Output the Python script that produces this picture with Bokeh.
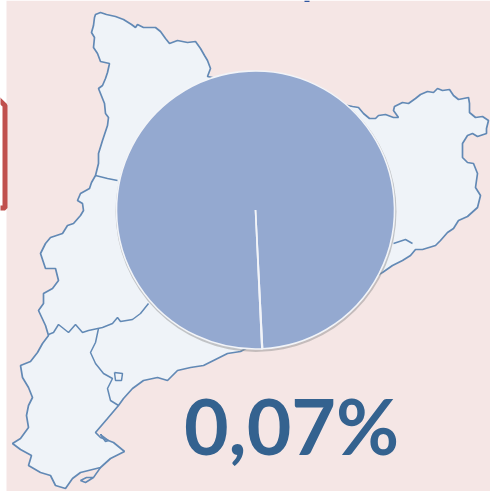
from bokeh.plotting import figure
from bokeh.models import Range1d
from bokeh.core.properties import value
from bokeh.embed import file_html
from bokeh.resources import INLINE
import numpy as np

slice_labels = ["Resta", "Selecció"]
slice_values = [99.93, 0.07]
big_label = "0,07%"
BG, LAND, EDGE, PIE, INK = "#F5E6E5", "#EFF3F8", "#6289B5", "#94A9D0", "#34628F"

north = [(95,14),(100,12),(106,14),(115,16),(123,19),(131,24),(135,27),(137,24),(143,27),(155,27),(160,31),(165,38),(169,43),(177,40),(187,42),(195,41),(200,48),(204,55),(207,60),(210,68),(207,76)]
east = [(352,106),(358,107),(363,113),(369,118),(375,118),(378,115),(385,114),(393,117),(398,117),(393,110),(394,106),(402,102),(408,103),(415,98),(420,94),(427,91),(433,92),(437,88),(442,90),(449,89),(453,95),(458,99),(468,97),(469,103),(469,112),(475,117),(482,116),(488,120),(486,128),(486,133),(477,136),(472,133),(467,135),(462,143),(462,157),(467,162),(473,163),(477,173),(475,187),(480,195),(477,207),(467,216),(458,220),(453,228),(447,232),(440,240),(435,245),(422,249),(415,249),(410,255),(402,260),(392,265),(382,272)]
south = [(240,351),(227,353),(213,360),(203,365),(190,367),(177,370),(170,377),(167,380),(157,377),(143,380),(132,388),(123,398),(118,405),(107,418),(95,432),(100,437),(113,442),(124,451),(110,458),(100,467),(80,472),(72,478),(65,488),(55,485),(50,475),(40,472),(28,465),(31,455),(20,449),(12,443),(20,438),(28,427),(26,415),(28,405),(32,397),(28,387),(22,377),(20,365),(30,361),(37,352),(42,343),(48,335),(45,325),(38,310),(43,303),(43,293),(52,288),(58,280),(55,268),(45,268),(40,253),(43,247)]
west = [(45,243),(50,237),(62,233),(67,225),(73,223),(80,215),(83,210),(82,203),(77,200),(80,193),(89,188),(91,182),(95,175),(98,163),(98,153),(102,140),(107,125),(108,117),(105,113),(104,103),(100,93),(98,88),(102,85),(105,78),(107,72),(109,63),(100,61),(97,53),(93,47),(94,37),(91,32),(93,25),(94,17)]
border_a = [(95,175),(107,178),(117,180)]
border_b = [(148,303),(140,313),(132,319),(120,321),(117,317),(112,323),(102,327),(88,330),(82,332),(75,324),(68,332),(58,324),(53,332),(48,334)]
border_c = [(98,328),(95,342),(90,352),(95,363),(103,373),(112,378),(107,388),(110,400),(118,405)]
border_d = [(393,243),(405,239),(412,243)]
lagoon_a = [(114,372),(122,373),(121,380),(115,380),(114,372)]
lagoon_b = [(100,467),(93,477),(85,482),(80,480),(86,477),(93,477)]
lagoon_c = [(100,434),(108,440),(105,441),(100,434)]
tab = [(-4,97),(4.5,105),(4.5,207.5),(-4,207.5)]
title_tip = (304, 309, 0, 1.5)

H = 491
xs = lambda pts: [a for a, _ in pts]
ys = lambda pts: [H - b for _, b in pts]

p = figure(width=490, height=491, output_backend="svg", toolbar_location=None,
           x_range=Range1d(0, 490), y_range=Range1d(0, H), min_border=0,
           x_axis_type=None, y_axis_type=None, outline_line_color=None,
           background_fill_color="white", border_fill_color="white",
           styles={"position": "fixed", "left": "0", "top": "0", "filter": "blur(0.5px)"})
p.grid.visible = False

p.quad(left=[6], right=[490], bottom=[0], top=[H], fill_color=BG, line_color=None)
p.line(xs(tab), ys(tab), line_color="#C0504D", line_width=5)
p.quad(left=[title_tip[0]], right=[title_tip[1]], bottom=[H - title_tip[3]], top=[H - title_tip[2]],
       fill_color="#2F55A0", line_color=None)

outline = north + east + south + west
p.patch(xs(outline), ys(outline), fill_color=LAND, line_color=EDGE, line_width=1.7)
for pts in [border_a, border_b, border_c, border_d, lagoon_a, lagoon_b, lagoon_c]:
    p.line(xs(pts), ys(pts), line_color=EDGE, line_width=1.5)

cx, cy, r = 255, H - 209.5, 139
p.circle([cx + 0.5], [cy - 1.5], radius=r + 1.5, fill_color="#8A8A8A", fill_alpha=0.45, line_color=None)
fracs = np.cumsum([0] + slice_values) / sum(slice_values) * 2 * np.pi
offset = -np.pi / 2 + np.deg2rad(2.9)
p.wedge([cx, cx], [cy, cy], radius=r, start_angle=fracs[:-1] + offset,
        end_angle=fracs[1:] + offset, fill_color=PIE, line_color="#F2F4F8", line_width=1.6)

p.text([291], [H - 424.5], text=[big_label], text_font=value("Lato"), text_font_style="bold",
       text_font_size="77px", text_color=INK, text_align="center", text_baseline="middle")

open("out.html", "w").write(file_html(p, INLINE))
